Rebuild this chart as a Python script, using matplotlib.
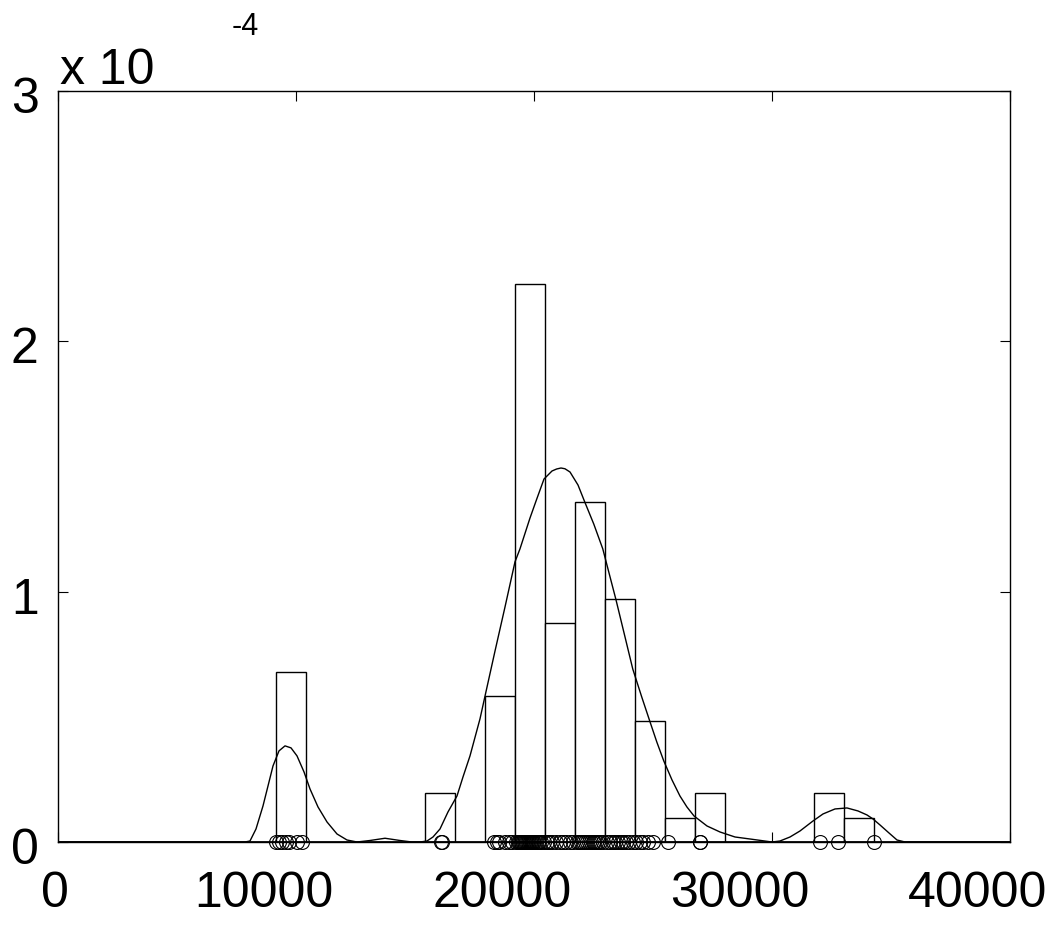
"""
Histogram (density) with fitted mixture curve and the sample points on the baseline.
"""
import numpy as np
import matplotlib.pyplot as plt
from matplotlib.transforms import ScaledTranslation

plt.rcParams['font.family'] = ['Liberation Sans', 'DejaVu Sans']

SCALE = 1e-4

# histogram bins (left edge, height in 1e-4 units)
BIN_WIDTH  = 1257.5
BIN_LEFTS  = [9145, 15433, 17948, 19205, 20463, 21720, 22978, 24235, 25493, 26750, 31780, 33038]
BIN_HEIGHT = [0.679, 0.194, 0.582, 2.231, 0.873, 1.358, 0.970, 0.485, 0.097, 0.194, 0.194, 0.097]

# density curve (x, y in 1e-4 units)
CURVE_X = [0, 7857, 8067, 8319, 8613, 8824, 9034, 9286, 9538, 9790, 10042, 10336, 10588,
           10924, 11303, 11723, 12143, 12563, 13109, 13740, 14370, 14874, 15210, 15504,
           15756, 16050, 16386, 16765, 17017, 17311, 17731, 17942, 18362, 18782, 19201,
           19411, 19831, 20100, 20420, 20756, 20950, 21134, 21300, 21513, 21849, 22134,
           22512, 22890, 23184, 23436, 23814, 24150, 24528, 24864, 25158, 25452, 25798,
           26131, 26425, 26723, 27269, 27815, 28446, 29075, 30000, 30336, 30756, 31176,
           31723, 32143, 32647, 33151, 33613, 33991, 34244, 34538, 34916, 35252, 35588,
           40000]
CURVE_Y = [0, 0, 0.004, 0.052, 0.144, 0.224, 0.304, 0.364, 0.384, 0.376, 0.344, 0.280, 0.212,
           0.140, 0.080, 0.032, 0.008, 0, 0.006, 0.015, 0.006, 0, 0, 0.004,
           0.02, 0.052, 0.12, 0.184, 0.26, 0.344, 0.492, 0.583, 0.763, 0.939, 1.119,
           1.171, 1.294, 1.366, 1.450, 1.482, 1.490, 1.494, 1.491, 1.478, 1.426, 1.358,
           1.270, 1.171, 1.063, 0.971, 0.823, 0.691, 0.579, 0.483, 0.400, 0.324, 0.248,
           0.184, 0.140, 0.104, 0.064, 0.040, 0.020, 0.012, 0, 0.004, 0.02, 0.044,
           0.084, 0.112, 0.132, 0.136, 0.124, 0.108, 0.092, 0.068, 0.036, 0.008, 0,
           0]

# sample points shown as circles on the baseline
SAMPLES = [9145, 9290, 9410, 9580, 9700, 10040, 10250,
           16090, 16130,
           18320, 18446, 18530, 18782, 18950, 19076,
           19260, 19310, 19360, 19400, 19450, 19490, 19540, 19580, 19620, 19660, 19700,
           19740, 19780, 19820, 19870, 19910, 19960, 20010, 20080, 20150, 20230, 20310, 20400,
           20550, 20630, 20760, 20920, 21090, 21220, 21340, 21510, 21640,
           21820, 21900, 21980, 22060, 22140, 22220, 22300, 22380, 22460, 22540, 22620,
           22700, 22790, 22900,
           23060, 23180, 23300, 23420, 23530, 23640, 23760, 23870, 24000, 24150,
           24300, 24440, 24600, 24800, 25000,
           25630,
           26975, 26985,
           32020, 32770,
           34295]

X_TICKS = [0, 10000, 20000, 30000, 40000]
Y_TICKS = [0, 1, 2, 3]


def main():
    fig = plt.figure(figsize=(10.57, 9.29), dpi=100)
    ax = fig.add_axes([58 / 1057, 1 - 843 / 929, 952 / 1057, 751 / 929])

    ax.bar(BIN_LEFTS, np.array(BIN_HEIGHT) * SCALE, width=BIN_WIDTH, align='edge',
           facecolor='white', edgecolor='black', lw=1.0, zorder=2)
    ax.plot(CURVE_X, np.array(CURVE_Y) * SCALE, color='black', lw=1.0, zorder=3)
    ax.plot(SAMPLES, np.zeros(len(SAMPLES)), 'o', mfc='none', mec='black',
            ms=10, mew=0.8, zorder=4, clip_on=False)
    ax.axhline(0, color='black', lw=2.0, zorder=3)

    ax.set_xlim(0, 40000)
    ax.set_ylim(0, 3 * SCALE)
    ax.set_xticks(X_TICKS)
    ax.set_xticklabels([str(t) for t in X_TICKS])
    ax.set_yticks([t * SCALE for t in Y_TICKS])
    ax.set_yticklabels([str(t) for t in Y_TICKS])
    ax.tick_params(direction='in', length=7, width=0.8, top=True, right=True,
                   labelsize=36)
    ax.tick_params(axis='x', pad=20)
    ax.tick_params(axis='y', pad=14)
    for s in ax.spines.values():
        s.set_linewidth(1.0)

    # the long labels sit a little left of their ticks in the original
    for lab in ax.get_xticklabels():
        dx = -3 if len(lab.get_text()) == 1 else -32
        lab.set_transform(lab.get_transform() + ScaledTranslation(dx / 100, 0, fig.dpi_scale_trans))
    for lab in ax.get_yticklabels():
        lab.set_transform(lab.get_transform() + ScaledTranslation(0, -3 / 100, fig.dpi_scale_trans))

    fig.text(60 / 1057, 1 - 84 / 929, 'x 10', fontsize=36, ha='left', va='baseline')
    fig.text(232 / 1057, 1 - 35 / 929, '-4', fontsize=22, ha='left', va='baseline')

    fig.savefig('out.png', dpi=100)
    plt.close(fig)


if __name__ == '__main__':
    main()
